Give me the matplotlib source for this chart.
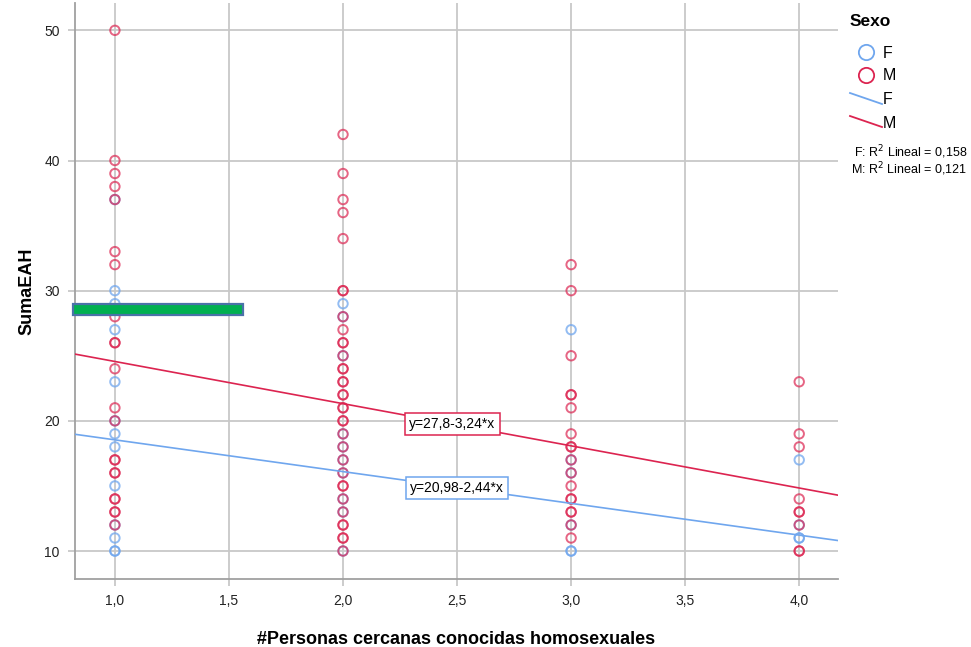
import matplotlib
matplotlib.use("Agg")
import matplotlib.pyplot as plt
from matplotlib.lines import Line2D
from matplotlib.patches import Rectangle
import numpy as np

plt.rcParams['font.family'] = ['Liberation Sans', 'DejaVu Sans']

# observed scores per sex (repeated values = overlapping cases)
f_x = [1]*13 + [2]*10 + [3]*6 + [4]*4
f_y = [37, 30, 29, 27, 23, 20, 19, 18, 15, 12, 11, 10, 10,
       10, 13, 14, 16, 17, 18, 19, 25, 28, 29,
       27, 17, 16, 12, 10, 10,
       17, 12, 11, 11]

m_x = [1]*22 + [2]*35 + [3]*18 + [4]*9
m_y = [50, 40, 39, 38, 37, 33, 32, 28, 26, 26, 24, 21, 20, 17, 17, 16, 16, 14, 14, 13, 13, 12,
       42, 39, 37, 36, 34, 30, 30, 28, 27, 26, 26, 25, 24, 24, 23, 23, 22, 22, 21, 21,
       20, 20, 19, 18, 17, 16, 15, 15, 14, 13, 12, 12, 11, 11, 10,
       32, 30, 25, 22, 22, 21, 19, 18, 18, 17, 16, 15, 14, 14, 13, 13, 12, 11,
       23, 19, 18, 14, 13, 13, 12, 10, 10]

# fitted lines: intercept, slope
f_fit = (20.98, -2.44)
m_fit = (27.8, -3.24)
f_r2 = "0,158"
m_r2 = "0,121"

blue = "#6fa6ee"
red = "#dc2450"

fig = plt.figure(figsize=(9.71, 6.47), dpi=100)
ax = fig.add_axes([75/971, 1-579/647, (838-75)/971, (579-3)/647])

xlim = (0.825, 4.17)
ax.set_xlim(*xlim)
ax.set_ylim(7.85, 52.1)

ax.set_xticks([1.0, 1.5, 2.0, 2.5, 3.0, 3.5, 4.0])
ax.set_xticklabels(["1,0", "1,5", "2,0", "2,5", "3,0", "3,5", "4,0"])
ax.set_yticks([10, 20, 30, 40, 50])
ax.grid(True, color="#c8c8c8", lw=1.3, zorder=0)
ax.set_axisbelow(True)
for s in ["top", "right"]:
    ax.spines[s].set_visible(False)
for s in ["left", "bottom"]:
    ax.spines[s].set_color("#a0a0a0")
    ax.spines[s].set_linewidth(1.3)
ax.tick_params(colors="#c8c8c8", labelcolor="#222222", labelsize=10,
               length=5, width=1.3, pad=6)

ax.scatter(f_x, f_y, s=46, facecolors="none", edgecolors=blue,
           linewidths=1.4, alpha=0.75, zorder=3)
ax.scatter(m_x, m_y, s=46, facecolors="none", edgecolors=red,
           linewidths=1.4, alpha=0.7, zorder=3)

xs = np.array(xlim)
ax.plot(xs, f_fit[0] + f_fit[1]*xs, color=blue, lw=1.2, zorder=4)
ax.plot(xs, m_fit[0] + m_fit[1]*xs, color=red, lw=1.2, zorder=4)

ax.text(2.48, 19.75, "y=27,8-3,24*x", fontsize=10, ha="center", va="center", zorder=5,
        bbox=dict(boxstyle="square,pad=0.3", fc="white", ec=red, lw=1.1))
ax.text(2.5, 14.85, "y=20,98-2,44*x", fontsize=10, ha="center", va="center", zorder=5,
        bbox=dict(boxstyle="square,pad=0.3", fc="white", ec=blue, lw=1.1))

# highlight bar
ax.add_patch(Rectangle((0.815, 28.15), 1.56-0.815, 0.85, fc="#00b050",
                       ec="#4a72a8", lw=1.6, zorder=6, clip_on=False))

ax.set_xlabel("#Personas cercanas conocidas homosexuales", fontsize=13,
              fontweight="bold", labelpad=16)
ax.set_ylabel("SumaEAH", fontsize=13, fontweight="bold", labelpad=6)

# legend block
def px(x, y):
    return x/971, 1-y/647

fig.text(*px(850, 22), "Sexo", fontsize=12.5, fontweight="bold", va="center")
for yy, c, lab in [(52, blue, "F"), (75, red, "M")]:
    fig.add_artist(Line2D([866/971], [1-yy/647], marker="o", ms=11, mfc="none",
                          mec=c, mew=1.3, transform=fig.transFigure))
    fig.text(*px(883, yy+1), lab, fontsize=11.5, va="center")
for y0, c, lab in [(93, blue, "F"), (116, red, "M")]:
    fig.add_artist(Line2D([850/971, 882/971], [1-y0/647, 1-(y0+11)/647],
                          color=c, lw=1.3, transform=fig.transFigure))
    fig.text(*px(883, y0+7), lab, fontsize=11.5, va="center")
fig.text(*px(967, 152), "F: R$^2$ Lineal = " + f_r2, fontsize=9, ha="right", va="center")
fig.text(*px(967, 169), "M: R$^2$ Lineal = " + m_r2, fontsize=9, ha="right", va="center")

fig.savefig("out.png", dpi=100)
